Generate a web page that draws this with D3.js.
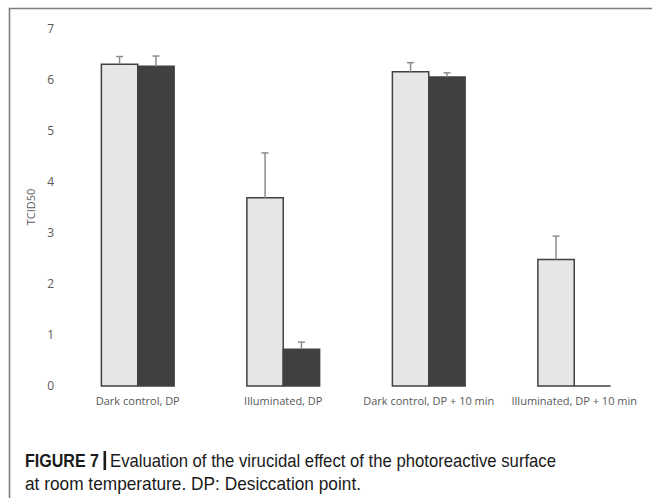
<!DOCTYPE html>
<html>
<head>
<meta charset="utf-8">
<script src="https://cdn.jsdelivr.net/npm/d3@7"></script>
<style>
  body { margin: 0; background: #fff; }
  svg { display: block; }
</style>
</head>
<body>
<div id="chart"></div>
<script>
// Chart data
var categories = ["Dark control, DP", "Illuminated, DP", "Dark control, DP + 10 min", "Illuminated, DP + 10 min"];
var lightValues = [6.31, 3.69, 6.16, 2.48];
var lightErrors = [0.15, 0.88, 0.18, 0.46];
var darkValues = [6.27, 0.72, 6.06, 0];
var darkErrors = [0.20, 0.14, 0.08, 0];
var yTicks = [0, 1, 2, 3, 4, 5, 6, 7];

var width = 652, height = 498;

var svg = d3.select("#chart").append("svg")
    .attr("width", width)
    .attr("height", height);

svg.append("rect").attr("width", width).attr("height", height).attr("fill", "#fff");

// frame around the figure panel (top and left only)
svg.append("path")
    .attr("d", "M9.5," + height + "V8.5H" + width)
    .attr("fill", "none")
    .attr("stroke", "#7d7d7d")
    .attr("stroke-width", 1.6);

// scales
var x = d3.scaleBand().domain(categories).range([65, 647]);
var bw = x.bandwidth();
var inner = d3.scaleBand().domain(["light", "dark"]).range([bw * 0.25, bw * 0.75]);
var y = d3.scaleLinear().domain([0, 7]).range([386, 29]);

// y axis: labels only
var yAxis = svg.append("g")
    .attr("transform", "translate(54,0)")
    .call(d3.axisLeft(y).tickValues(yTicks).tickFormat(d3.format("d")).tickSize(0).tickPadding(0));
yAxis.select(".domain").remove();
yAxis.selectAll("text")
    .attr("fill", "#595959")
    .style("font-family", "'Open Sans', sans-serif")
    .style("font-size", "12px");

svg.append("text")
    .attr("transform", "translate(35,207) rotate(-90)")
    .attr("text-anchor", "middle")
    .attr("fill", "#595959")
    .style("font-family", "'Open Sans', sans-serif")
    .style("font-size", "11px")
    .text("TCID50");

// x category labels
var xAxis = svg.append("g")
    .attr("transform", "translate(0,386)")
    .call(d3.axisBottom(x).tickSize(0).tickPadding(11));
xAxis.select(".domain").remove();
xAxis.selectAll("text")
    .attr("fill", "#595959")
    .style("font-family", "'Open Sans', sans-serif")
    .style("font-size", "11px");

// bars (drawn as paths so a zero value still shows its outline)
var series = [
    {key: "light", values: lightValues, errors: lightErrors, fill: "#e6e6e6"},
    {key: "dark", values: darkValues, errors: darkErrors, fill: "#404040"}
];

series.forEach(function(s) {
    var g = svg.append("g");
    g.selectAll("path.bar")
        .data(categories)
        .enter().append("path")
        .attr("class", "bar")
        .attr("d", function(d, i) {
            var x0 = x(d) + inner(s.key), w = inner.bandwidth();
            return "M" + x0 + "," + y(0) + "V" + y(s.values[i]) + "h" + w + "V" + y(0) + "Z";
        })
        .attr("fill", s.fill)
        .attr("stroke", "#404040")
        .attr("stroke-width", 1.5);

    // upper error bars
    var eb = g.selectAll("g.err")
        .data(categories.filter(function(d, i) { return s.errors[i] > 0; }))
        .enter().append("g")
        .attr("class", "err")
        .attr("stroke", "#8c8c8c")
        .attr("stroke-width", 1.5);
    eb.append("line")
        .attr("x1", function(d) { return x(d) + inner(s.key) + inner.bandwidth() / 2; })
        .attr("x2", function(d) { return x(d) + inner(s.key) + inner.bandwidth() / 2; })
        .attr("y1", function(d) { var i = categories.indexOf(d); return y(s.values[i]); })
        .attr("y2", function(d) { var i = categories.indexOf(d); return y(s.values[i] + s.errors[i]); });
    eb.append("line")
        .attr("x1", function(d) { return x(d) + inner(s.key) + inner.bandwidth() / 2 - 3.5; })
        .attr("x2", function(d) { return x(d) + inner(s.key) + inner.bandwidth() / 2 + 3.5; })
        .attr("y1", function(d) { var i = categories.indexOf(d); return y(s.values[i] + s.errors[i]); })
        .attr("y2", function(d) { var i = categories.indexOf(d); return y(s.values[i] + s.errors[i]); });
});

// caption
var capFont = "'Liberation Sans Narrow', 'Liberation Sans', sans-serif";
svg.append("text")
    .attr("x", 25).attr("y", 467)
    .attr("textLength", 74)
    .attr("lengthAdjust", "spacingAndGlyphs")
    .attr("fill", "#1a1a1a")
    .style("font-family", capFont)
    .style("font-size", "19px")
    .style("font-weight", "bold")
    .text("FIGURE 7");
svg.append("rect")
    .attr("x", 103.5).attr("y", 451)
    .attr("width", 2.6).attr("height", 19)
    .attr("fill", "#1a1a1a");
svg.append("text")
    .attr("x", 110).attr("y", 467)
    .attr("textLength", 446)
    .attr("lengthAdjust", "spacingAndGlyphs")
    .attr("fill", "#1a1a1a")
    .style("font-family", capFont)
    .style("font-size", "19px")
    .text("Evaluation of the virucidal effect of the photoreactive surface");
svg.append("text")
    .attr("x", 25).attr("y", 490)
    .attr("textLength", 336)
    .attr("lengthAdjust", "spacingAndGlyphs")
    .attr("fill", "#1a1a1a")
    .style("font-family", capFont)
    .style("font-size", "19px")
    .text("at room temperature. DP: Desiccation point.");
</script>
</body>
</html>
